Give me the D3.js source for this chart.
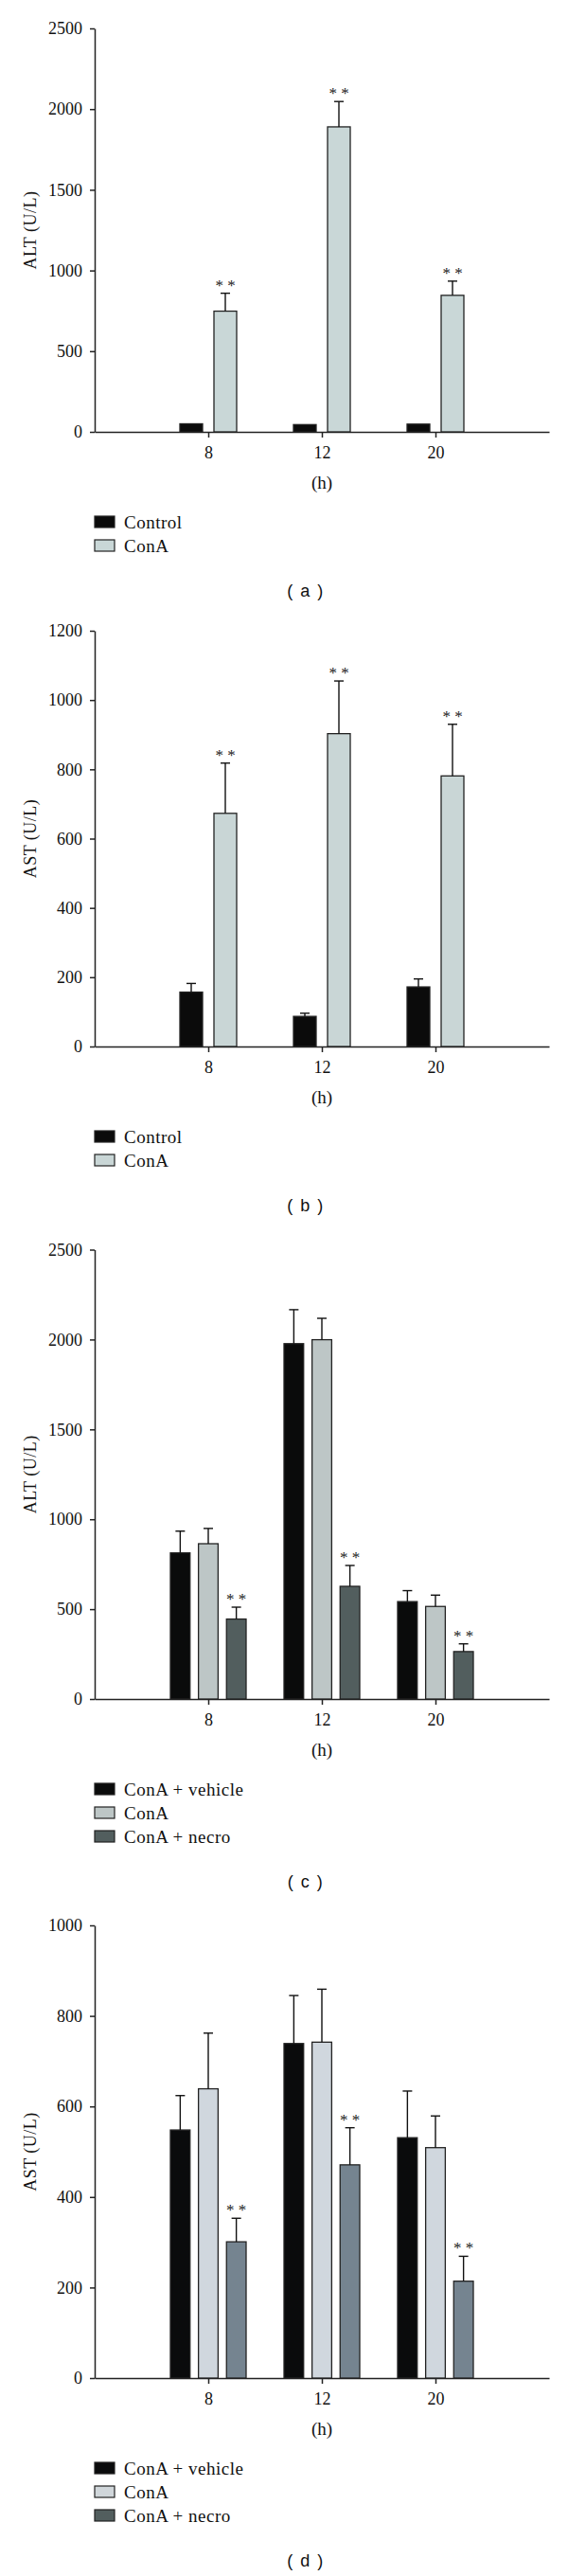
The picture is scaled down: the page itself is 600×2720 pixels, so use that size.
<!DOCTYPE html>
<html>
<head>
<meta charset="utf-8">
<script src="https://cdn.jsdelivr.net/npm/d3@7"></script>
<style>
  body { margin: 0; background: #fff; }
  .axis path, .axis line { stroke: #222; stroke-width: 1.5; }
  .axis text { font-family: 'Liberation Serif', 'DejaVu Serif', serif; font-size: 18px; fill: #111; }
</style>
</head>
<body>
<div id="chart"></div>
<script>
// time points (h)
const hours = ['8', '12', '20'];

// (a) ALT, Control vs ConA
const aControl = [50, 45, 48];
const aControlErr = [0, 0, 0];
const aConA = [748, 1890, 846];
const aConAErr = [111, 157, 88];

// (b) AST, Control vs ConA
const bControl = [157, 87, 172];
const bControlErr = [25, 9, 23];
const bConA = [673, 903, 781];
const bConAErr = [145, 152, 149];

// (c) ALT, three treatments
const cVehicle = [813, 1977, 542];
const cVehicleErr = [121, 189, 61];
const cConA = [864, 1999, 515];
const cConAErr = [85, 119, 63];
const cNecro = [445, 627, 264];
const cNecroErr = [66, 116, 43];

// (d) AST, three treatments
const dVehicle = [548, 739, 531];
const dVehicleErr = [76, 106, 103];
const dConA = [639, 742, 509];
const dConAErr = [123, 117, 70];
const dNecro = [301, 471, 214];
const dNecroErr = [52, 82, 55];

const yTicksA = [0, 500, 1000, 1500, 2000, 2500];
const yTicksB = [0, 200, 400, 600, 800, 1000, 1200];
const yTicksD = [0, 200, 400, 600, 800, 1000];

const serif = "'Liberation Serif', 'DejaVu Serif', serif";
const sans = "'Liberation Sans', Arial, sans-serif";

const panels = [
  { top: 30, bottom: 456, ticks: yTicksA, yLabel: 'ALT (U/L)', caption: '( a )',
    series: [
      { name: 'Control', values: aControl, errors: aControlErr, color: '#0b0b0b', legend: '#0b0b0b', stars: false },
      { name: 'ConA', values: aConA, errors: aConAErr, color: '#c9d7d7', legend: '#c9d7d7', stars: true }
    ] },
  { top: 666, bottom: 1105, ticks: yTicksB, yLabel: 'AST (U/L)', caption: '( b )',
    series: [
      { name: 'Control', values: bControl, errors: bControlErr, color: '#0b0b0b', legend: '#0b0b0b', stars: false },
      { name: 'ConA', values: bConA, errors: bConAErr, color: '#c9d6d6', legend: '#c9d6d6', stars: true }
    ] },
  { top: 1319.5, bottom: 1794, ticks: yTicksA, yLabel: 'ALT (U/L)', caption: '( c )',
    series: [
      { name: 'ConA + vehicle', values: cVehicle, errors: cVehicleErr, color: '#0a0b0b', legend: '#0a0b0b', stars: false },
      { name: 'ConA', values: cConA, errors: cConAErr, color: '#bdc6c6', legend: '#bdc6c6', stars: false },
      { name: 'ConA + necro', values: cNecro, errors: cNecroErr, color: '#525e5e', legend: '#525e5e', stars: true }
    ] },
  { top: 2033, bottom: 2511, ticks: yTicksD, yLabel: 'AST (U/L)', caption: '( d )',
    series: [
      { name: 'ConA + vehicle', values: dVehicle, errors: dVehicleErr, color: '#0a0b0c', legend: '#0a0b0c', stars: false },
      { name: 'ConA', values: dConA, errors: dConAErr, color: '#d0d7de', legend: '#d0d6da', stars: false },
      { name: 'ConA + necro', values: dNecro, errors: dNecroErr, color: '#758490', legend: '#525e5e', stars: true }
    ] }
];

const left = 100, right = 580;

const svg = d3.select('#chart').append('svg')
  .attr('width', 600)
  .attr('height', 2720);

panels.forEach(p => drawPanel(p));

function drawPanel(p) {
  const g = svg.append('g').attr('transform', `translate(${left},0)`);
  const width = right - left;

  const x = d3.scalePoint().domain(hours).range([0, width]).padding(1);
  const y = d3.scaleLinear().domain([0, d3.max(p.ticks)]).range([p.bottom, p.top]);

  const names = p.series.map(s => s.name);
  const half = names.length === 2 ? 30 : 40;
  const x1 = d3.scaleBand().domain(names).range([-half, half])
    .paddingInner(names.length === 2 ? 1 / 3 : 0.3).paddingOuter(0);

  // axes
  g.append('g')
    .attr('class', 'axis')
    .call(d3.axisLeft(y).tickValues(p.ticks).tickFormat(d3.format('d'))
      .tickSize(5).tickSizeOuter(0).tickPadding(8));

  g.append('g')
    .attr('class', 'axis')
    .attr('transform', `translate(0,${p.bottom})`)
    .call(d3.axisBottom(x).tickSize(6).tickSizeOuter(0).tickPadding(9));

  // bars + error bars
  p.series.forEach(s => {
    const rows = hours.map((h, i) => ({ h, v: s.values[i], e: s.errors[i] }));
    const grp = g.append('g');

    grp.selectAll('rect')
      .data(rows)
      .enter().append('rect')
      .attr('x', d => x(d.h) + x1(s.name))
      .attr('y', d => y(d.v))
      .attr('width', x1.bandwidth())
      .attr('height', d => p.bottom - y(d.v))
      .attr('fill', s.color)
      .attr('stroke', '#222')
      .attr('stroke-width', 1.3);

    const withErr = rows.filter(d => d.e > 0);
    grp.selectAll('.err')
      .data(withErr)
      .enter().append('line')
      .attr('x1', d => x(d.h) + x1(s.name) + x1.bandwidth() / 2)
      .attr('x2', d => x(d.h) + x1(s.name) + x1.bandwidth() / 2)
      .attr('y1', d => y(d.v))
      .attr('y2', d => y(d.v + d.e))
      .attr('stroke', '#111')
      .attr('stroke-width', 1.4);

    grp.selectAll('.cap')
      .data(withErr)
      .enter().append('line')
      .attr('x1', d => x(d.h) + x1(s.name) + x1.bandwidth() / 2 - 5)
      .attr('x2', d => x(d.h) + x1(s.name) + x1.bandwidth() / 2 + 5)
      .attr('y1', d => y(d.v + d.e))
      .attr('y2', d => y(d.v + d.e))
      .attr('stroke', '#111')
      .attr('stroke-width', 1.4);

    if (s.stars) {
      grp.selectAll('.star')
        .data(rows)
        .enter().append('text')
        .attr('x', d => x(d.h) + x1(s.name) + x1.bandwidth() / 2)
        .attr('y', d => y(d.v + d.e) - 3)
        .attr('text-anchor', 'middle')
        .style('font-family', serif)
        .style('font-size', '17px')
        .style('fill', '#222')
        .text('* *');
    }
  });

  // y label
  svg.append('text')
    .attr('transform', `translate(32,${(p.top + p.bottom) / 2}) rotate(-90)`)
    .attr('text-anchor', 'middle')
    .attr('dominant-baseline', 'central')
    .style('font-family', serif)
    .style('font-size', '18px')
    .style('letter-spacing', '0.5px')
    .style('fill', '#111')
    .text(p.yLabel);

  // x label
  svg.append('text')
    .attr('x', left + x('12'))
    .attr('y', p.bottom + 53)
    .attr('text-anchor', 'middle')
    .attr('dominant-baseline', 'central')
    .style('font-family', serif)
    .style('font-size', '19px')
    .style('fill', '#111')
    .text('(h)');

  // legend
  const legend = svg.append('g')
    .attr('transform', `translate(${left},${p.bottom + 95})`);

  const items = legend.selectAll('.legend-item')
    .data(p.series)
    .enter().append('g')
    .attr('transform', (d, i) => `translate(0,${i * 25})`);

  items.append('rect')
    .attr('x', 0)
    .attr('y', -6)
    .attr('width', 21)
    .attr('height', 12)
    .attr('fill', d => d.legend)
    .attr('stroke', '#222')
    .attr('stroke-width', 1.2);

  items.append('text')
    .attr('x', 31)
    .attr('y', 0)
    .attr('dominant-baseline', 'central')
    .style('font-family', serif)
    .style('font-size', '19px')
    .style('letter-spacing', '0.5px')
    .style('fill', '#111')
    .text(d => d.name);

  // caption
  svg.append('text')
    .attr('x', 323)
    .attr('y', p.bottom + 95 + (p.series.length - 1) * 25 + 48)
    .attr('text-anchor', 'middle')
    .attr('dominant-baseline', 'central')
    .style('font-family', sans)
    .style('font-size', '18px')
    .style('letter-spacing', '1.5px')
    .style('fill', '#111')
    .text(p.caption);
}
</script>
</body>
</html>
